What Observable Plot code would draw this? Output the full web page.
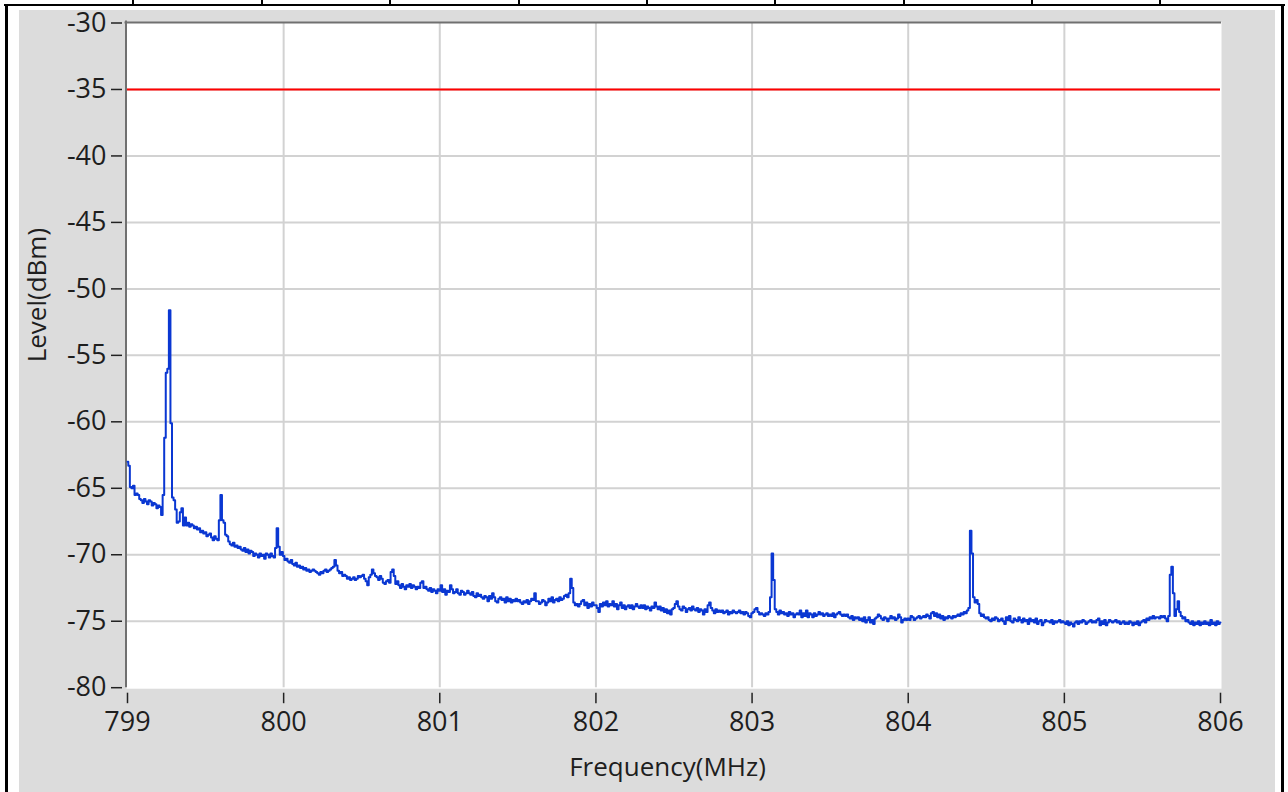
<!DOCTYPE html>
<html><head><meta charset="utf-8">
<script src="https://cdn.jsdelivr.net/npm/d3@7"></script>
<script src="https://cdn.jsdelivr.net/npm/@observablehq/plot@0.6"></script>
<style>
html,body{margin:0;padding:0;background:#fff;}
#page{position:relative;width:1288px;height:792px;overflow:hidden;background:#fff;}
.b{position:absolute;background:#000;}
#panel{position:absolute;left:19px;top:10px;width:1256px;height:782px;background:#dcdcdc;}
#panel svg{display:block;}
</style></head><body>
<div id="page">
  <div class="b" style="left:4px;top:4px;width:1281px;height:2px"></div>
  <div class="b" style="left:5px;top:4px;width:3px;height:788px"></div>
  <div class="b" style="left:1281px;top:4px;width:3px;height:788px"></div>
  <div class="b" style="left:132px;top:0;width:2px;height:5px"></div>
  <div class="b" style="left:261px;top:0;width:2px;height:5px"></div>
  <div class="b" style="left:389px;top:0;width:2px;height:5px"></div>
  <div class="b" style="left:518px;top:0;width:2px;height:5px"></div>
  <div class="b" style="left:646px;top:0;width:2px;height:5px"></div>
  <div class="b" style="left:774px;top:0;width:2px;height:5px"></div>
  <div class="b" style="left:903px;top:0;width:2px;height:5px"></div>
  <div class="b" style="left:1031px;top:0;width:2px;height:5px"></div>
  <div class="b" style="left:1159px;top:0;width:2px;height:5px"></div>
  <div id="panel"></div>
</div>
<script>
const freqStart = 799;
const freqStep = 0.01;
const levels = [
-63.0,-63.3,-64.9,-65.0,-64.8,-65.5,-65.4,-65.5,-65.8,-65.9,
-66.1,-65.8,-66.0,-66.2,-65.9,-66.0,-66.3,-66.1,-66.2,-66.5,
-66.3,-66.4,-67.0,-65.5,-61.2,-56.3,-56.0,-51.6,-60.1,-65.7,
-65.9,-66.6,-67.6,-67.5,-66.8,-66.5,-67.8,-67.2,-67.8,-67.6,
-67.9,-67.7,-67.8,-68.0,-67.9,-68.1,-68.0,-68.3,-68.2,-68.4,
-68.3,-68.6,-68.5,-68.4,-68.7,-68.9,-68.6,-68.8,-68.9,-67.4,
-65.5,-67.4,-67.6,-68.5,-68.6,-69.0,-69.2,-69.3,-69.1,-69.4,
-69.3,-69.5,-69.4,-69.6,-69.7,-69.5,-69.8,-69.6,-69.9,-69.7,
-69.8,-70.1,-69.9,-70.0,-70.2,-69.9,-70.1,-70.0,-70.3,-69.9,
-70.0,-70.2,-69.9,-70.1,-70.2,-69.5,-68.0,-69.4,-70.0,-69.8,
-70.1,-70.4,-70.3,-70.5,-70.6,-70.4,-70.7,-70.8,-70.6,-70.9,
-70.8,-71.0,-70.9,-71.1,-71.0,-71.2,-71.1,-71.3,-71.2,-71.1,
-71.2,-71.3,-71.4,-71.5,-71.3,-71.4,-71.2,-71.1,-71.3,-71.2,
-71.1,-71.0,-70.9,-70.4,-70.8,-71.2,-71.4,-71.3,-71.6,-71.5,
-71.6,-71.8,-71.7,-71.9,-71.8,-71.7,-71.9,-71.8,-71.6,-71.7,
-71.6,-71.5,-71.8,-72.0,-72.3,-71.7,-71.5,-71.1,-71.4,-71.6,
-71.7,-71.9,-71.6,-71.8,-72.1,-72.2,-72.0,-71.9,-72.1,-71.3,
-71.1,-71.6,-72.2,-72.0,-72.3,-72.5,-72.2,-72.4,-72.6,-72.3,
-72.4,-72.2,-72.5,-72.3,-72.4,-72.6,-72.4,-72.5,-72.1,-72.0,
-72.5,-72.4,-72.6,-72.7,-72.5,-72.8,-72.6,-72.7,-72.9,-72.6,
-72.7,-72.3,-72.8,-72.6,-73.0,-72.7,-72.8,-72.3,-72.6,-72.9,
-72.8,-72.6,-72.9,-73.0,-72.7,-72.8,-73.0,-72.9,-72.7,-72.9,
-73.0,-72.8,-73.1,-73.2,-72.9,-73.1,-73.0,-73.2,-73.3,-73.1,
-73.2,-73.5,-73.1,-73.3,-72.9,-73.2,-73.5,-73.6,-73.3,-73.2,
-73.4,-73.3,-73.6,-73.2,-73.5,-73.3,-73.6,-73.4,-73.5,-73.3,
-73.5,-73.4,-73.6,-73.7,-73.5,-73.6,-73.4,-73.7,-73.5,-73.3,
-73.4,-72.9,-73.5,-73.5,-73.7,-73.6,-73.4,-73.5,-73.8,-73.6,
-73.3,-73.5,-73.2,-73.6,-73.4,-73.3,-73.5,-73.2,-73.4,-73.3,
-73.1,-73.0,-73.2,-72.9,-71.8,-72.5,-73.6,-73.8,-73.7,-73.9,
-73.7,-73.5,-73.4,-73.8,-73.6,-74.0,-73.7,-73.9,-73.6,-73.8,
-73.8,-74.0,-74.3,-73.7,-73.9,-73.6,-73.8,-73.5,-73.9,-73.7,
-73.8,-73.5,-73.9,-73.7,-74.1,-73.8,-73.6,-74.0,-73.8,-74.1,
-73.9,-73.8,-74.0,-73.8,-74.1,-73.9,-73.7,-73.9,-74.0,-73.8,
-74.0,-73.8,-74.1,-73.9,-74.0,-74.2,-73.9,-74.0,-73.6,-73.9,
-74.1,-73.9,-74.2,-74.0,-74.3,-74.1,-74.4,-74.2,-74.5,-74.1,
-74.0,-73.7,-73.5,-73.9,-74.1,-74.2,-73.9,-74.0,-74.3,-74.1,
-74.0,-74.2,-73.9,-74.1,-74.2,-74.0,-74.3,-74.1,-74.2,-74.5,
-74.1,-74.3,-73.8,-73.6,-74.0,-74.2,-74.4,-74.1,-74.3,-74.2,
-74.3,-74.2,-74.4,-74.3,-74.2,-74.5,-74.3,-74.4,-74.2,-74.3,
-74.4,-74.3,-74.2,-74.4,-74.3,-74.5,-74.3,-74.4,-74.6,-74.7,
-74.4,-74.3,-74.1,-74.0,-74.3,-74.5,-74.4,-74.5,-74.6,-74.4,
-74.5,-74.3,-73.2,-69.9,-71.9,-74.1,-74.3,-74.5,-74.2,-74.4,
-74.3,-74.5,-74.4,-74.6,-74.3,-74.5,-74.4,-74.7,-74.5,-74.4,
-74.5,-74.2,-74.7,-74.4,-74.6,-74.2,-74.7,-74.4,-74.5,-74.7,
-74.4,-74.6,-74.5,-74.3,-74.5,-74.4,-74.6,-74.5,-74.4,-74.6,
-74.5,-74.6,-74.4,-74.7,-74.5,-74.4,-74.3,-74.5,-74.6,-74.5,
-74.6,-74.5,-74.7,-74.8,-74.6,-74.9,-74.7,-74.8,-74.7,-74.9,
-74.8,-75.0,-74.7,-75.1,-74.9,-74.7,-75.1,-74.9,-75.2,-74.8,
-74.7,-74.5,-74.6,-74.8,-74.9,-74.7,-74.8,-75.0,-74.8,-74.6,
-74.8,-74.7,-74.9,-74.8,-74.5,-74.7,-75.1,-74.9,-74.8,-74.9,
-74.8,-74.9,-74.6,-74.7,-74.9,-74.8,-74.7,-74.6,-74.8,-74.7,
-74.6,-74.7,-74.5,-74.6,-74.8,-74.4,-74.3,-74.6,-74.4,-74.7,
-74.5,-74.8,-74.6,-74.9,-74.7,-74.8,-74.6,-74.7,-74.8,-74.6,
-74.7,-74.6,-74.5,-74.6,-74.4,-74.5,-74.3,-74.4,-74.2,-74.0,
-68.2,-69.9,-73.2,-73.6,-73.4,-73.7,-74.4,-74.6,-74.5,-74.7,
-74.8,-74.7,-74.9,-75.0,-74.8,-74.9,-74.7,-74.8,-75.0,-74.9,
-74.8,-75.0,-75.2,-74.7,-74.9,-74.6,-75.0,-75.1,-74.8,-74.9,
-75.0,-74.7,-74.9,-75.1,-74.8,-75.0,-74.9,-75.2,-74.8,-75.0,
-74.9,-75.1,-74.8,-75.2,-75.0,-74.9,-75.3,-75.1,-74.9,-75.0,
-75.0,-75.1,-74.9,-75.2,-75.0,-75.1,-75.0,-74.9,-75.1,-75.0,
-75.1,-75.2,-75.0,-75.3,-75.1,-75.2,-75.4,-75.1,-75.0,-75.2,
-75.0,-75.1,-74.9,-75.0,-75.2,-75.1,-75.0,-74.9,-75.1,-75.0,
-75.1,-74.9,-74.8,-75.3,-75.0,-75.2,-74.9,-75.3,-75.1,-74.9,
-75.0,-75.1,-75.0,-74.9,-75.1,-75.0,-75.2,-75.1,-75.0,-75.2,
-75.1,-75.2,-75.0,-75.1,-75.3,-75.1,-75.2,-75.0,-75.3,-75.1,
-75.0,-74.9,-75.1,-74.8,-74.9,-74.7,-74.8,-74.6,-74.8,-74.7,
-74.7,-74.8,-74.6,-74.7,-74.6,-74.8,-75.0,-74.6,-71.5,-70.9,
-72.9,-74.6,-74.1,-73.5,-74.3,-74.6,-74.8,-74.7,-75.0,-74.9,
-75.1,-75.2,-75.0,-75.3,-75.1,-75.2,-75.0,-75.3,-75.1,-75.2,
-75.0,-75.2,-75.1,-75.3,-74.9,-75.2,-75.1,-75.3,-75.0,-75.2,
-75.1
];
const limitLevel = [-35];
const xTicks = [799, 800, 801, 802, 803, 804, 805, 806];
const yTicks = [-80, -75, -70, -65, -60, -55, -50, -45, -40, -35, -30];
const xLabel = "Frequency(MHz)";
const yLabel = "Level(dBm)";

const data = levels.map((v, i) => ({freq: +(freqStart + i * freqStep).toFixed(2), level: v}));
const font = '"Open Sans", "Noto Sans", sans-serif';

const chart = Plot.plot({
  width: 1256, height: 782,
  marginLeft: 108, marginRight: 55, marginTop: 12.5, marginBottom: 104.8,
  style: {background: "transparent", fontFamily: font, fontSize: "27px", color: "#1e1e1e", overflow: "visible"},
  x: {domain: [799, 806]},
  y: {domain: [-80, -30]},
  marks: [
    Plot.frame({fill: "white", stroke: "none", inset: -1}),
    Plot.gridX(xTicks.slice(1, -1), {stroke: "#d2d2d2", strokeOpacity: 1, strokeWidth: 2}),
    Plot.gridY(yTicks.slice(1, -1), {stroke: "#d2d2d2", strokeOpacity: 1, strokeWidth: 2}),
    Plot.ruleX([799], {stroke: "#707070", strokeWidth: 2, dx: -1.5, insetTop: -2}),
    Plot.ruleY([-30], {stroke: "#707070", strokeWidth: 2, dy: -0.5, insetLeft: -2.5, insetRight: -1}),
    Plot.ruleY(limitLevel, {stroke: "#ff0000", strokeWidth: 2}),
    Plot.line(data, {x: "freq", y: "level", curve: "step", stroke: "#0a37d2", strokeWidth: 2}),
    Plot.axisY(yTicks, {tickSize: 11, dx: -5, tickPadding: 5, tickFormat: d => String(d), stroke: "#222", strokeWidth: 1.5, label: null, fontSize: 27}),
    Plot.axisX(xTicks, {tickSize: 10.5, dy: 5.5, tickPadding: 8, tickFormat: d => String(d), stroke: "#222", strokeWidth: 1.5, label: null, fontSize: 27}),
    Plot.text([yLabel], {frameAnchor: "left", rotate: -90, dx: -90, dy: 7, fontSize: 26, fill: "#1e1e1e"}),
    Plot.text([xLabel], {frameAnchor: "bottom", dx: -6.5, dy: 88, fontSize: 26, fill: "#1e1e1e"})
  ]
});
document.getElementById("panel").appendChild(chart);
</script>
</body></html>
